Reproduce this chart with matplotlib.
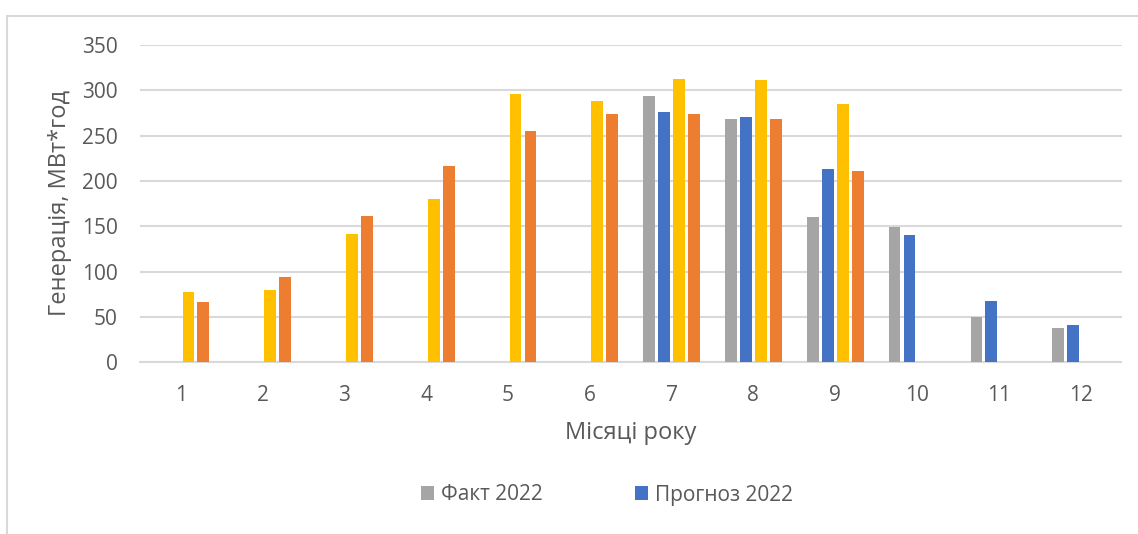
import numpy as np
import matplotlib
matplotlib.use("Agg")
import matplotlib.pyplot as plt
from matplotlib.patches import Rectangle, Patch

plt.rcParams['font.family'] = ['Open Sans', 'DejaVu Sans']

months = ["1", "2", "3", "4", "5", "6", "7", "8", "9", "10", "11", "12"]
nan = np.nan
fact_2022 = [nan, nan, nan, nan, nan, nan, 294, 268, 160, 149, 50, 38]
forecast_2022 = [nan, nan, nan, nan, nan, nan, 276, 271, 213, 140, 68, 41]
series_yellow = [77, 80, 142, 180, 296, 288, 312, 311, 285, nan, nan, nan]
series_orange = [67, 94, 161, 216, 255, 274, 274, 268, 211, nan, nan, nan]

labels = ["Факт 2022", "Прогноз 2022", None, None]
colors = ["#A5A5A5", "#4472C4", "#FFC000", "#ED7D31"]
yticks = [0, 50, 100, 150, 200, 250, 300, 350]

W, H = 1138, 534
fig = plt.figure(figsize=(W / 100, H / 100), dpi=100)
text_color = "#595959"

ax = fig.add_axes([140 / W, 1 - 362.3 / H, (1121.5 - 140) / W, (362.3 - 45) / H])
x = np.arange(len(months))
slot = 0.183
bw = 0.143
all_series = [fact_2022, forecast_2022, series_yellow, series_orange]
for i, (vals, c) in enumerate(zip(all_series, colors)):
    ax.bar(x + (i - 1.5) * slot, vals, width=bw, color=c, zorder=3)

ax.set_xlim(-0.5, len(months) - 0.5)
ax.set_ylim(0, 350)
ax.set_yticks(yticks)
ax.set_xticks(x)
ax.set_xticklabels(months)
ax.grid(axis='y', color="#D9D9D9", linewidth=1.5, zorder=0)
ax.set_axisbelow(True)
for s in ["top", "right", "left"]:
    ax.spines[s].set_visible(False)
ax.spines["bottom"].set_color("#D9D9D9")
ax.spines["bottom"].set_linewidth(1.5)
ax.tick_params(axis='both', length=0, labelsize=15, labelcolor=text_color)
ax.tick_params(axis='y', pad=16)
ax.tick_params(axis='x', pad=16)

fig.text(630.7 / W, 1 - 433 / H, "Місяці року", ha='center', va='center',
         fontsize=17, color=text_color)
fig.text(60 / W, 1 - 203 / H, "Генерація, МВт*год", ha='center', va='center',
         rotation=90, fontsize=17, color=text_color)

handles = [Patch(facecolor=colors[0]), Patch(facecolor=colors[1])]
fig.legend(handles, labels[:2], loc='center', bbox_to_anchor=(607 / W, 1 - 495 / H),
           ncol=2, frameon=False, fontsize=15, labelcolor=text_color,
           handlelength=0.62, handleheight=0.62, handletextpad=0.35, columnspacing=4.4)

border = Rectangle((7 / W, -0.1), 1.2, 1.1 - 16 / H, transform=fig.transFigure,
                   fill=False, edgecolor="#D9D9D9", linewidth=1.5, clip_on=False)
fig.patches.append(border)

fig.savefig("out.png", dpi=100)
